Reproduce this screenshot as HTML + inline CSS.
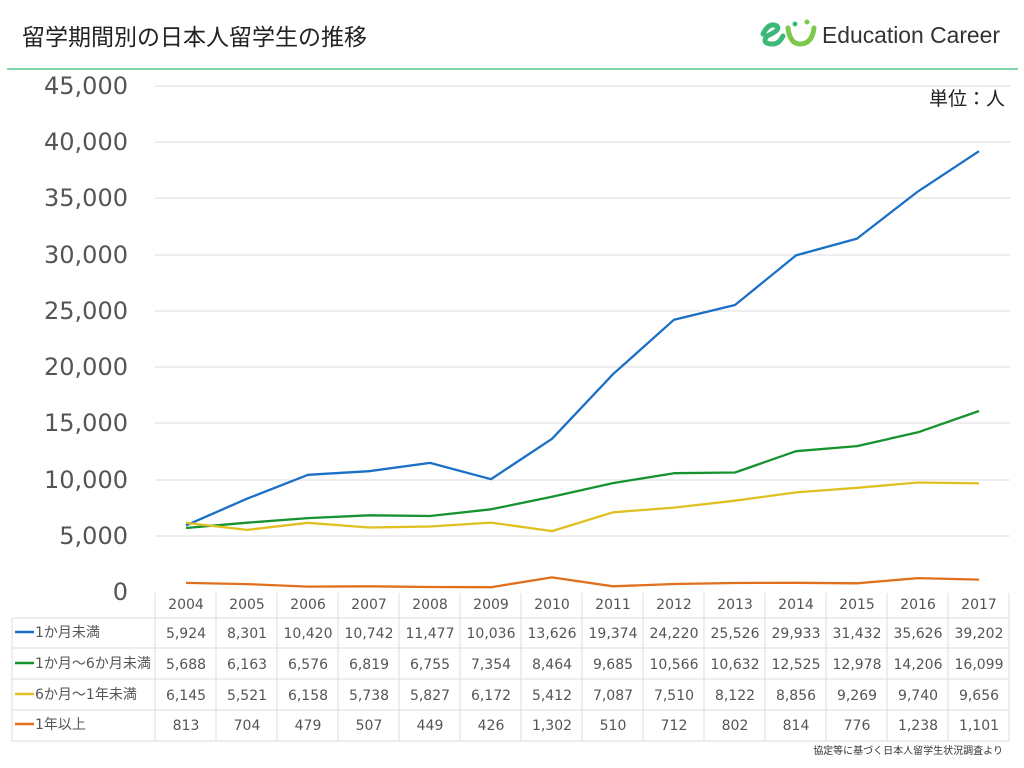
<!DOCTYPE html>
<html><head><meta charset="utf-8"><style>
body{margin:0;background:#fff;width:1024px;height:768px;overflow:hidden}
svg{display:block;font-family:"Liberation Sans","Noto Sans CJK JP",sans-serif}
.dv{font-family:"DejaVu Sans","Noto Sans CJK JP",sans-serif}
</style></head><body>
<svg width="1024" height="768" viewBox="0 0 1024 768" xmlns="http://www.w3.org/2000/svg">
<text x="22" y="45" font-size="23" fill="#222">留学期間別の日本人留学生の推移</text>
<g fill="none" stroke-width="5" stroke-linecap="round">
<path d="M763 34 q6 -12 14 -8 q4 4 -10 10 q-6 8 6 8 q6 0 10 -8" stroke="#3cb878"/>
<path d="M788 28 q2 16 12 16 q12 0 14 -16" stroke="#7cc84a"/>
</g>
<circle cx="795" cy="24" r="2.5" fill="#3cb878"/><circle cx="807" cy="22" r="2.5" fill="#7cc84a"/>
<text x="822" y="43" font-size="23" fill="#333" textLength="178" lengthAdjust="spacingAndGlyphs">Education Career</text>
<line x1="7" y1="69" x2="1018" y2="69" stroke="#5cc68a" stroke-width="1.5"/>
<text x="1005" y="105" font-size="19" fill="#222" text-anchor="end">単位：人</text>
<g stroke="#ddd" stroke-width="1">
<line x1="155" y1="86" x2="1010" y2="86"/><line x1="155" y1="142" x2="1010" y2="142"/>
<line x1="155" y1="198" x2="1010" y2="198"/><line x1="155" y1="255" x2="1010" y2="255"/>
<line x1="155" y1="311" x2="1010" y2="311"/><line x1="155" y1="367" x2="1010" y2="367"/>
<line x1="155" y1="423" x2="1010" y2="423"/><line x1="155" y1="480" x2="1010" y2="480"/>
<line x1="155" y1="536" x2="1010" y2="536"/>
</g>
<g class="dv" font-size="24" fill="#555" text-anchor="end">
<text x="128" y="94">45,000</text><text x="128" y="150">40,000</text><text x="128" y="206">35,000</text>
<text x="128" y="263">30,000</text><text x="128" y="319">25,000</text><text x="128" y="375">20,000</text>
<text x="128" y="431">15,000</text><text x="128" y="488">10,000</text><text x="128" y="544">5,000</text>
<text x="128" y="600">0</text>
</g>
<g fill="none" stroke-width="2.3" stroke-linejoin="round">
<polyline stroke="#1a6fc6" points="186,525.4 247,498.7 308,474.8 369,471.2 430,462.9 491,479.2 552,438.8 613,374.2 674,319.7 735,305 796,255.4 857,238.6 918,191.4 979,151.2"/>
<polyline stroke="#16922e" points="186,528 247,522.7 308,518.1 369,515.3 430,516 491,509.3 552,496.8 613,483.1 674,473.2 735,472.5 796,451.2 857,446.1 918,432.3 979,411"/>
<polyline stroke="#e0c020" points="186,522.9 247,529.9 308,522.8 369,527.5 430,526.5 491,522.6 552,531.1 613,512.3 674,507.6 735,500.7 796,492.4 857,487.8 918,482.5 979,483.4"/>
<polyline stroke="#e0701e" points="186,582.9 247,584.1 308,586.6 369,586.3 430,587 491,587.2 552,577.4 613,586.3 674,584 735,583 796,582.8 857,583.3 918,578.1 979,579.6"/>
</g>
<g stroke="#ddd" stroke-width="1">
<line x1="12" y1="618" x2="1009" y2="618"/><line x1="12" y1="648" x2="1009" y2="648"/>
<line x1="12" y1="679" x2="1009" y2="679"/><line x1="12" y1="710" x2="1009" y2="710"/>
<line x1="12" y1="741" x2="1009" y2="741"/><line x1="12" y1="618" x2="12" y2="741"/>
<line x1="155" y1="593" x2="155" y2="741"/><line x1="216" y1="593" x2="216" y2="741"/>
<line x1="277" y1="593" x2="277" y2="741"/><line x1="338" y1="593" x2="338" y2="741"/>
<line x1="399" y1="593" x2="399" y2="741"/><line x1="460" y1="593" x2="460" y2="741"/>
<line x1="521" y1="593" x2="521" y2="741"/><line x1="582" y1="593" x2="582" y2="741"/>
<line x1="643" y1="593" x2="643" y2="741"/><line x1="704" y1="593" x2="704" y2="741"/>
<line x1="765" y1="593" x2="765" y2="741"/><line x1="826" y1="593" x2="826" y2="741"/>
<line x1="887" y1="593" x2="887" y2="741"/><line x1="948" y1="593" x2="948" y2="741"/>
<line x1="1009" y1="593" x2="1009" y2="741"/>
</g>
<g stroke-width="2.5">
<line x1="15" y1="632" x2="34" y2="632" stroke="#1a6fc6"/>
<line x1="15" y1="663" x2="34" y2="663" stroke="#16922e"/>
<line x1="15" y1="694" x2="34" y2="694" stroke="#e0c020"/>
<line x1="15" y1="724" x2="34" y2="724" stroke="#e0701e"/>
</g>
<g class="dv" font-size="14" fill="#555">
<text x="35" y="637">1か月未満</text><text x="35" y="668">1か月～6か月未満</text>
<text x="35" y="699">6か月～1年未満</text><text x="35" y="729">1年以上</text>
</g>
<g class="dv" font-size="14" fill="#555" text-anchor="middle">
<text y="609"><tspan x="186">2004</tspan><tspan x="247">2005</tspan><tspan x="308">2006</tspan><tspan x="369">2007</tspan><tspan x="430">2008</tspan><tspan x="491">2009</tspan><tspan x="552">2010</tspan><tspan x="613">2011</tspan><tspan x="674">2012</tspan><tspan x="735">2013</tspan><tspan x="796">2014</tspan><tspan x="857">2015</tspan><tspan x="918">2016</tspan><tspan x="979">2017</tspan></text>
<text y="638"><tspan x="186">5,924</tspan><tspan x="247">8,301</tspan><tspan x="308">10,420</tspan><tspan x="369">10,742</tspan><tspan x="430">11,477</tspan><tspan x="491">10,036</tspan><tspan x="552">13,626</tspan><tspan x="613">19,374</tspan><tspan x="674">24,220</tspan><tspan x="735">25,526</tspan><tspan x="796">29,933</tspan><tspan x="857">31,432</tspan><tspan x="918">35,626</tspan><tspan x="979">39,202</tspan></text>
<text y="669"><tspan x="186">5,688</tspan><tspan x="247">6,163</tspan><tspan x="308">6,576</tspan><tspan x="369">6,819</tspan><tspan x="430">6,755</tspan><tspan x="491">7,354</tspan><tspan x="552">8,464</tspan><tspan x="613">9,685</tspan><tspan x="674">10,566</tspan><tspan x="735">10,632</tspan><tspan x="796">12,525</tspan><tspan x="857">12,978</tspan><tspan x="918">14,206</tspan><tspan x="979">16,099</tspan></text>
<text y="700"><tspan x="186">6,145</tspan><tspan x="247">5,521</tspan><tspan x="308">6,158</tspan><tspan x="369">5,738</tspan><tspan x="430">5,827</tspan><tspan x="491">6,172</tspan><tspan x="552">5,412</tspan><tspan x="613">7,087</tspan><tspan x="674">7,510</tspan><tspan x="735">8,122</tspan><tspan x="796">8,856</tspan><tspan x="857">9,269</tspan><tspan x="918">9,740</tspan><tspan x="979">9,656</tspan></text>
<text y="730"><tspan x="186">813</tspan><tspan x="247">704</tspan><tspan x="308">479</tspan><tspan x="369">507</tspan><tspan x="430">449</tspan><tspan x="491">426</tspan><tspan x="552">1,302</tspan><tspan x="613">510</tspan><tspan x="674">712</tspan><tspan x="735">802</tspan><tspan x="796">814</tspan><tspan x="857">776</tspan><tspan x="918">1,238</tspan><tspan x="979">1,101</tspan></text>
</g>
<text x="1003" y="754" font-size="10" fill="#333" text-anchor="end">協定等に基づく日本人留学生状況調査より</text>
</svg>
</body></html>
